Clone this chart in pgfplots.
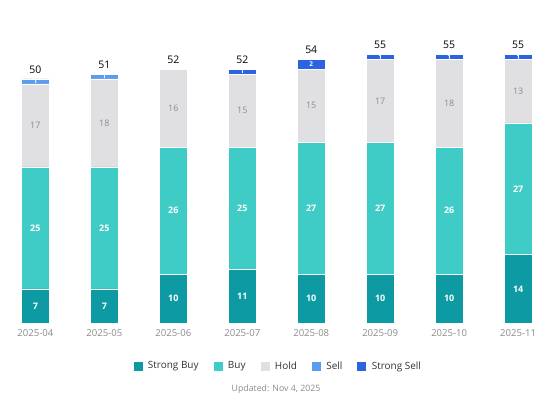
\documentclass[border=0pt]{standalone}
\usepackage{pgfplots}
\pgfplotsset{compat=1.18}
\usepackage{fontspec}
\setmainfont{Open Sans}
\definecolor{sbuy}{HTML}{0E9AA2}
\definecolor{buy}{HTML}{40CCC6}
\definecolor{hold}{HTML}{E0E0E2}
\definecolor{sell}{HTML}{5B9CF0}
\definecolor{ssell}{HTML}{2B63E0}
\definecolor{ticktxt}{HTML}{8A8A8A}
\definecolor{holdtxt}{HTML}{8C8C8C}
\pgfplotsset{
  common/.style={
    at={(5bp,77bp)}, anchor=south west,
    scale only axis, width=538bp, height=292.8bp,
    xmin=-0.44, xmax=7.36, ymin=0, ymax=60,
    axis line style={draw=none},
  },
  lbl/.style={only marks, mark=none, nodes near coords,
    point meta=explicit symbolic,
    every node near coord/.append style={anchor=center, font=\fontsize{9}{10}\selectfont\bfseries, text=#1}},
}
\begin{document}
\begin{tikzpicture}
\path[use as bounding box] (0,0) rectangle (546bp,400bp);
\begin{axis}[common,
  ybar stacked, bar width=27.5bp,
  xtick={0,...,7},
  xticklabels={2025-04,2025-05,2025-06,2025-07,2025-08,2025-09,2025-10,2025-11},
  ticklabel style={font=\fontsize{9.6}{11}\selectfont, text=ticktxt},
  xticklabel style={yshift=-3bp},
  major tick length=0pt, ytick=\empty,
  xtick pos=bottom,
  legend style={at={(0.507,-0.147)}, anchor=center, draw=none, legend columns=-1,
    font=\fontsize{10}{12}\selectfont, text=black!80,
    /tikz/every odd column/.append style={column sep=3bp},
    /tikz/every even column/.append style={column sep=12bp}},
  legend image code/.code={\fill[#1] (0bp,-5bp) rectangle (10bp,5bp);},
]
\draw[gray!25, line width=0.8pt] (axis cs:-0.44,0) -- (axis cs:7.36,0);
\addplot[fill=sbuy, draw=white, line width=0.4pt] coordinates {(0,7) (1,7) (2,10) (3,11) (4,10) (5,10) (6,10) (7,14)};
\addplot[fill=buy, draw=white, line width=0.4pt] coordinates {(0,25) (1,25) (2,26) (3,25) (4,27) (5,27) (6,26) (7,27)};
\addplot[fill=hold, draw=white, line width=0.4pt] coordinates {(0,17) (1,18) (2,16) (3,15) (4,15) (5,17) (6,18) (7,13)};
\addplot[fill=sell, draw=white, line width=0.4pt] coordinates {(0,1) (1,1) (2,0) (3,0) (4,0) (5,0) (6,0) (7,0)};
\addplot[fill=ssell, draw=white, line width=0.4pt] coordinates {(0,0) (1,0) (2,0) (3,1) (4,2) (5,1) (6,1) (7,1)};
\legend{Strong Buy, Buy, Hold, Sell, Strong Sell}
\end{axis}
\begin{axis}[common, hide axis, clip=false]
\addplot[lbl=white] coordinates {(0,3.5)[7] (1,3.5)[7] (2,5)[10] (3,5.5)[11] (4,5)[10] (5,5)[10] (6,5)[10] (7,7)[14]};
\addplot[lbl=white] coordinates {(0,19.5)[25] (1,19.5)[25] (2,23)[26] (3,23.5)[25] (4,23.5)[27] (5,23.5)[27] (6,23)[26] (7,27.5)[27]};
\addplot[only marks, mark=none, nodes near coords, point meta=explicit symbolic,
  every node near coord/.append style={anchor=center, font=\fontsize{9}{10}\selectfont, text=holdtxt}]
  coordinates {(0,40.5)[17] (1,41)[18] (2,44)[16] (3,43.5)[15] (4,44.5)[15] (5,45.5)[17] (6,45)[18] (7,47.5)[13]};
\addplot[only marks, mark=none, nodes near coords, point meta=explicit symbolic,
  every node near coord/.append style={anchor=center, font=\fontsize{6.5}{6.5}\selectfont\bfseries, text=white}]
  coordinates {(0,49.5)[1] (1,50.5)[1] (3,51.5)[1] (4,53)[2] (5,54.5)[1] (6,54.5)[1] (7,54.5)[1]};
\addplot[only marks, mark=none, nodes near coords, point meta=explicit symbolic,
  every node near coord/.append style={anchor=south, yshift=2bp, font=\fontsize{10.5}{12}\selectfont, text=black}]
  coordinates {(0,50)[50] (1,51)[51] (2,52)[52] (3,52)[52] (4,54)[54] (5,55)[55] (6,55)[55] (7,55)[55]};
\end{axis}
\node[font=\fontsize{8.8}{10}\selectfont, text=ticktxt] at (276bp,11bp) {Updated: Nov 4, 2025};
\end{tikzpicture}
\end{document}
